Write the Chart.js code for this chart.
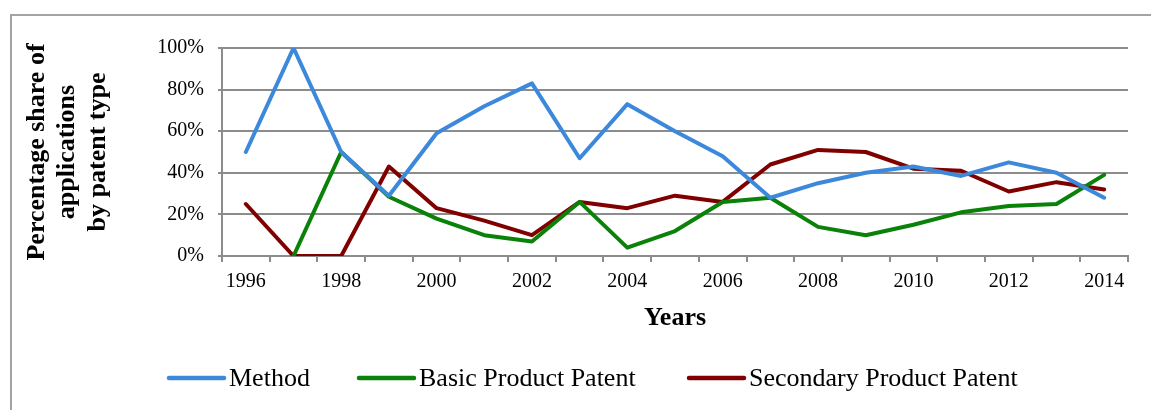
<!DOCTYPE html>
<html>
<head>
<meta charset="utf-8">
<script src="https://cdn.jsdelivr.net/npm/chart.js@4/dist/chart.umd.min.js"></script>
<style>
  html, body { margin: 0; padding: 0; background: #ffffff; }
  #wrap { width: 1151px; height: 410px; position: relative; }
</style>
</head>
<body>
<div id="wrap"><canvas id="c" width="1151" height="410"></canvas></div>
<script>
// Application years (x categories)
const years = ['1996','1997','1998','1999','2000','2001','2002','2003','2004','2005',
               '2006','2007','2008','2009','2010','2011','2012','2013','2014'];

// Percentage share of applications per patent type
const methodShare    = [50, 100, 50, 29, 59, 72, 83, 47, 73, 60, 48, 28, 35, 40, 43, 38.5, 45, 40, 28];
const basicShare     = [null, 0, 50, 28.5, 18, 10, 7, 26, 4, 12, 26, 28, 14, 10, 15, 21, 24, 25, 39];
const secondaryShare = [25, 0, 0, 43, 23, 17, 10, 26, 23, 29, 26, 44, 51, 50, 42, 41, 31, 35.5, 32];

// Y axis tick values
const yTicks = [0, 20, 40, 60, 80, 100];

const seriesNames  = ['Method', 'Basic Product Patent', 'Secondary Product Patent'];
const seriesColors = ['#3c89dc', '#0a820a', '#800000'];

const SERIF = "'Liberation Serif', 'Times New Roman', serif";
const GRID = '#8c8c8c';

// Outer frame around the figure
const framePlugin = {
  id: 'frame',
  beforeDraw(chart) {
    const ctx = chart.ctx;
    ctx.save();
    ctx.strokeStyle = '#a3a3a3';
    ctx.lineWidth = 2;
    ctx.strokeRect(11, 15, 1200, 450);
    ctx.restore();
  }
};

// Legend row: a line sample followed by the series name
const lineLegend = {
  id: 'lineLegend',
  afterDraw(chart) {
    const ctx = chart.ctx;
    const y = 378;
    const xs = [169, 359, 689];
    const sampleLen = 55;
    ctx.save();
    chart.data.datasets.forEach((ds, i) => {
      const x0 = xs[i];
      ctx.strokeStyle = ds.borderColor;
      ctx.lineWidth = 4.5;
      ctx.lineCap = 'round';
      ctx.beginPath();
      ctx.moveTo(x0, y);
      ctx.lineTo(x0 + sampleLen, y);
      ctx.stroke();
      ctx.fillStyle = '#000';
      ctx.font = '26px ' + SERIF;
      ctx.textBaseline = 'middle';
      ctx.textAlign = 'left';
      ctx.fillText(ds.label, x0 + sampleLen + 5, y + 1);
    });
    ctx.restore();
  }
};

const datasets = [methodShare, basicShare, secondaryShare].map((vals, i) => ({
  label: seriesNames[i],
  data: vals,
  borderColor: seriesColors[i],
  backgroundColor: seriesColors[i],
  borderWidth: 4,
  pointRadius: 0,
  pointHoverRadius: 0,
  tension: 0,
  borderJoinStyle: 'round',
  borderCapStyle: 'round',
  fill: false
}));

new Chart(document.getElementById('c'), {
  type: 'line',
  data: { labels: years, datasets },
  options: {
    responsive: false,
    animation: false,
    devicePixelRatio: 1,
    layout: { padding: { left: 22, top: 48, right: 23, bottom: 76 } },
    plugins: {
      legend: { display: false },
      tooltip: { enabled: false },
      title: { display: false }
    },
    scales: {
      x: {
        type: 'category',
        offset: true,
        border: { display: true, color: GRID, width: 2 },
        grid: {
          offset: true,
          drawOnChartArea: false,
          drawTicks: true,
          tickLength: 6,
          color: GRID,
          lineWidth: 2
        },
        ticks: {
          autoSkip: false,
          maxRotation: 0,
          padding: 8,
          color: '#000',
          font: { family: SERIF, size: 20 },
          callback: function (value, index) {
            const y = years[index];
            return (Number(y) % 2 === 0) ? y : '';
          }
        },
        title: {
          display: true,
          text: 'Years',
          color: '#000',
          padding: { top: 0, bottom: 0 },
          font: { family: SERIF, size: 26, weight: 'bold', lineHeight: 1.2 }
        },
        afterFit(scale) { scale.height = 78; }
      },
      y: {
        min: 0,
        max: 100,
        afterBuildTicks(scale) { scale.ticks = yTicks.map(v => ({ value: v })); },
        border: { display: true, color: GRID, width: 2 },
        grid: {
          color: GRID,
          lineWidth: 2,
          drawTicks: true,
          tickLength: 4
        },
        ticks: {
          padding: 14,
          color: '#000',
          font: { family: SERIF, size: 20 },
          callback: v => v + '%'
        },
        title: {
          display: true,
          text: ['Percentage share of', 'applications', 'by patent type'],
          color: '#000',
          padding: { top: 0, bottom: 0 },
          font: { family: SERIF, size: 26, weight: 'bold', lineHeight: 1.173 }
        },
        afterFit(scale) { scale.width = 200; }
      }
    }
  },
  plugins: [framePlugin, lineLegend]
});
</script>
</body>
</html>
